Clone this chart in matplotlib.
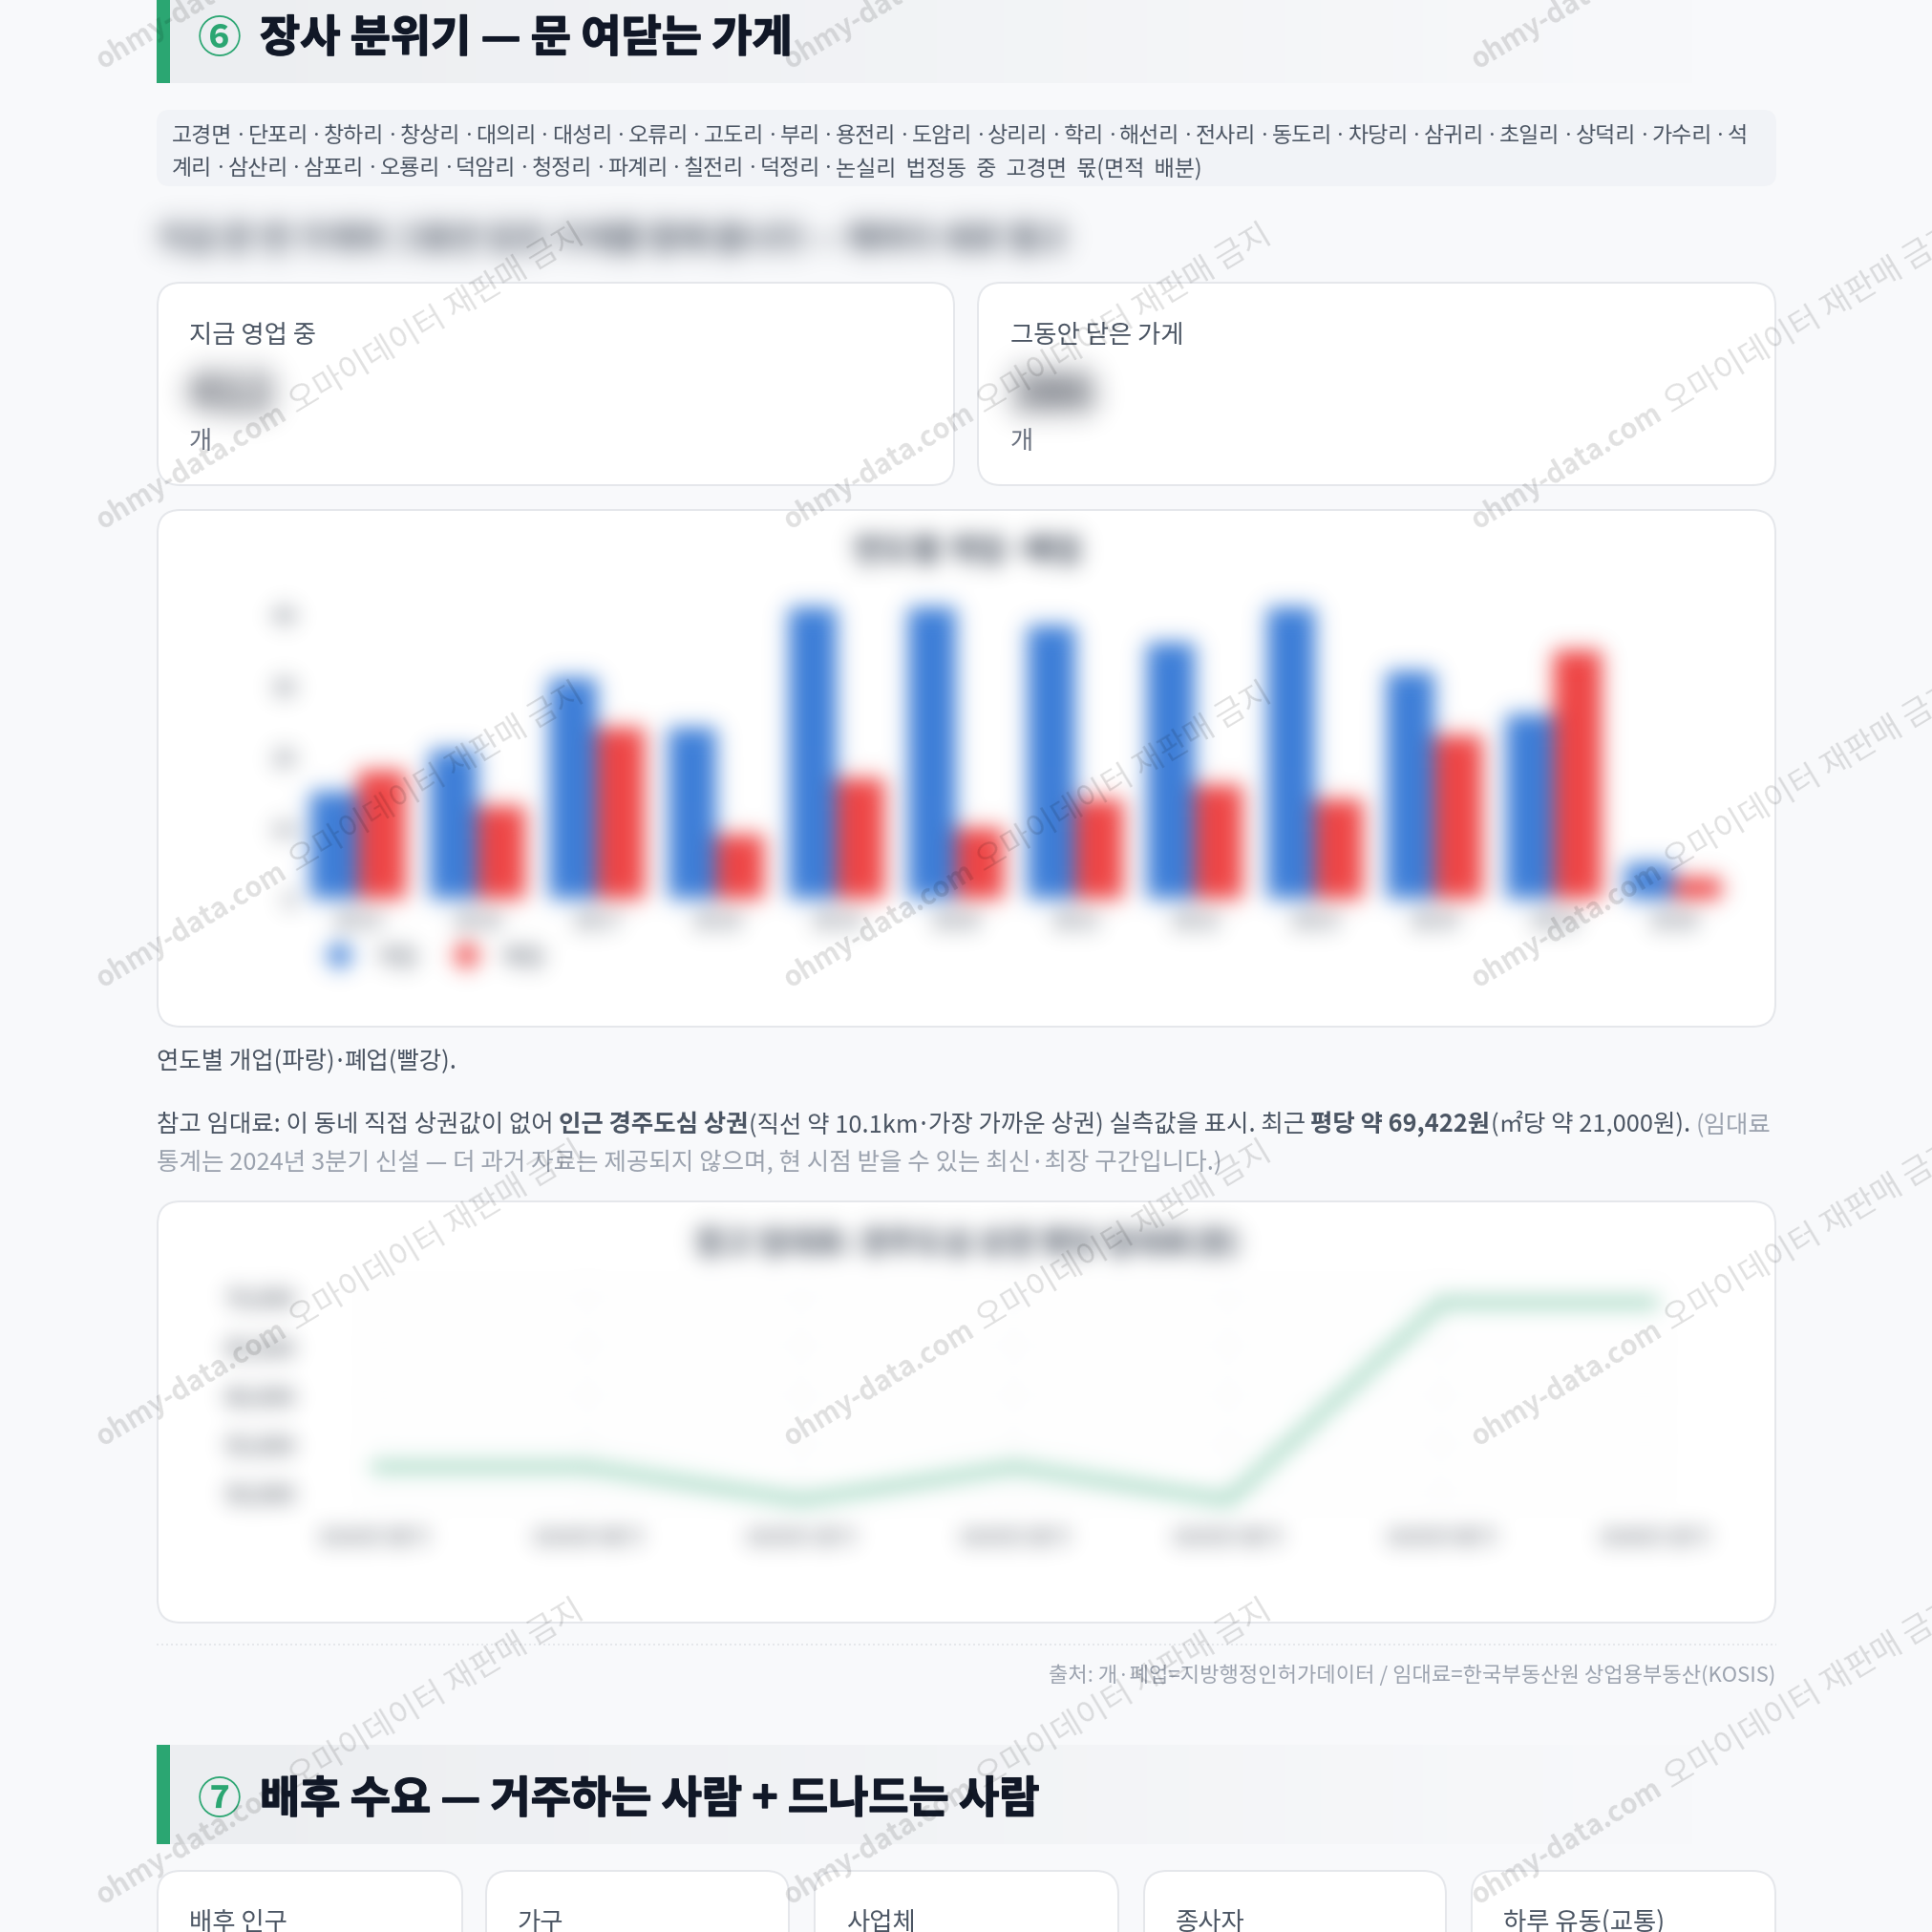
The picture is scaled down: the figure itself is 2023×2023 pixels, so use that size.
import numpy as np
import matplotlib
matplotlib.use("Agg")
import matplotlib.pyplot as plt
import matplotlib.patheffects as pe
from matplotlib.patches import FancyBboxPatch, Rectangle
from matplotlib.lines import Line2D

plt.rcParams['font.family'] = ['Noto Sans CJK KR', 'DejaVu Sans']

# data
years = ['2015', '2016', '2017', '2018', '2019', '2020', '2021', '2022', '2023', '2024', '2025', '2026']
opened = [15, 21, 31, 24, 41, 41, 38.5, 36, 41, 32, 26, 5]
closed = [18, 13, 24, 9, 17, 10, 14, 16, 14, 23, 35, 3]
bar_ticks = [0, 10, 20, 30, 40]

quarters = ['2024년 3분기', '2024년 4분기', '2025년 1분기', '2025년 2분기', '2025년 3분기', '2025년 4분기', '2026년 1분기']
rent = [52630, 52630, 49220, 52630, 49220, 69422, 69422]
rent_ticks = [50000, 55000, 60000, 65000, 70000]

area_line1 = ['고경면', '단포리', '창하리', '창상리', '대의리', '대성리', '오류리', '고도리', '부리', '용전리', '도암리',
              '상리리', '학리', '해선리', '전사리', '동도리', '차당리', '삼귀리', '초일리', '상덕리', '가수리', '석']
area_line2 = ['계리', '삼산리', '삼포리', '오룡리', '덕암리', '청정리', '파계리', '칠전리', '덕정리', '논실리  법정동  중  고경면  몫(면적  배분)']
small_cards = ['배후 인구', '가구', '사업체', '종사자', '하루 유동(교통)']


def px(n):
    return n * 72 / 100


def blur(sigma):
    def f(im, dpi):
        pad = int(3 * sigma) + 1
        a = np.pad(im, ((pad, pad), (pad, pad), (0, 0)))
        a[..., :3] *= a[..., 3:]
        k = np.exp(-0.5 * (np.arange(-pad, pad + 1) / sigma) ** 2)
        k = k / k.sum()
        for axis in (0, 1):
            out = np.zeros_like(a)
            for i, w in enumerate(k):
                out += w * np.roll(a, i - pad, axis=axis)
            a = out
        al = np.clip(a[..., 3:], 1e-6, 1)
        a[..., :3] = np.clip(a[..., :3] / al, 0, 1)
        return a, -pad, -pad
    return f


fig = plt.figure(figsize=(20.24, 20.24), dpi=100, facecolor='#f8f9fb')
page = fig.add_axes([0, 0, 1, 1], zorder=0)
page.set_axis_off()
rend = fig.canvas.get_renderer()


def card(x0, y0, x1, y1):
    page.add_patch(FancyBboxPatch((x0, y0), x1 - x0, y1 - y0, boxstyle='round,pad=0,rounding_size=24',
                                  fc='white', ec='#e5e7eb', lw=px(2)))


def txt(x, y, s, size, color='#4b5563', weight='normal', **kw):
    return page.text(x, y, s, fontsize=px(size), color=color, fontweight=weight, va='baseline', **kw)


def run_width(s, size, weight='normal'):
    t1 = txt(0, 0, '|' + s + '|', size, weight=weight)
    t2 = txt(0, 0, '||', size, weight=weight)
    w = t1.get_window_extent(rend).width - t2.get_window_extent(rend).width
    t1.remove()
    t2.remove()
    return w


def runs(x, y, parts, size):
    for s, color, weight in parts:
        txt(x, y, s, size, color, weight)
        x += run_width(s, size, weight)
    return x


def dotted_words(x, y, words, size, gap, color='#4b5563'):
    # words joined by a narrow middle dot, the browser spacing is tighter than the font's
    for i, w in enumerate(words):
        txt(x, y, w, size, color)
        x += run_width(w, size)
        if i < len(words) - 1:
            txt(x + gap / 2, y, '·', size, color, ha='center')
            x += gap
    return x


def header(y0, y1, mark, title):
    grad = np.zeros((1, 256, 4))
    grad[..., :3] = matplotlib.colors.to_rgb('#eceef1')
    grad[..., 3] = np.linspace(1, 0, 256)
    page.imshow(grad, extent=(178, 1785, y1, y0), aspect='auto', zorder=1)
    page.add_patch(Rectangle((164, y0), 14, y1 - y0, fc='#2ba672', ec='none', zorder=2))
    base = (y0 + y1) / 2 + 19
    txt(207, base, mark, 46, '#2ba672', 'bold', zorder=3)
    t = txt(272, base, title, 45.85, '#111827', 'bold', zorder=3)
    t.set_path_effects([pe.withStroke(linewidth=px(1.5), foreground='#111827')])


# section 6
header(-16, 88, '⑥', '장사 분위기 — 문 여닫는 가게')
page.add_patch(FancyBboxPatch((164, 116), 1696, 80, boxstyle='round,pad=0,rounding_size=14', fc='#f1f3f7', ec='none'))
area_size = 23
area_gap = (1830 - 180 - sum(run_width(w, area_size) for w in area_line1)) / (len(area_line1) - 1)
dotted_words(180, 149, area_line1, area_size, area_gap)
dotted_words(180, 183, area_line2, area_size, area_gap)

t = txt(165, 261, '지금 문 연 가게와 그동안 닫은 가게를 함께 봅니다 — 해마다 새로 열고', 33.5, '#374151', 'bold')
t.set_agg_filter(blur(13))

card(165, 297, 999, 509)
card(1024, 297, 1859, 509)
txt(198, 359, '지금 영업 중', 26.4, '#4b5563')
txt(1058, 359, '그동안 닫은 가게', 26.4, '#4b5563')
for x, s in ((198, '412'), (1058, '386')):
    t = txt(x, 428, s, 50, '#111827', 'bold')
    t.set_agg_filter(blur(15))
txt(198, 470, '개', 26.4, '#6b7280')
txt(1058, 470, '개', 26.4, '#6b7280')

card(165, 535, 1859, 1076)
card(165, 1259, 1859, 1700)

body = 25.4
dot_gap = run_width('·', body) - 4
dotted_words(164, 1119, ['연도별 개업(파랑)', '폐업(빨강).'], body, dot_gap)
x = runs(164, 1185, [('참고 임대료: 이 동네 직접 상권값이 없어 ', '#4b5563', 'normal'),
                     ('인근 경주도심 상권', '#4b5563', 'bold')], body)
x = dotted_words(x, 1185, ['(직선 약 10.1km', '가장 가까운 상권) 실측값을 표시. 최근 '], body, dot_gap)
runs(x, 1185, [('평당 약 69,422원', '#4b5563', 'bold'),
               ('(㎡당 약 21,000원). ', '#4b5563', 'normal'),
               ('(임대료', '#9ca3af', 'normal')], body)
txt(164, 1225, '통계는 2024년 3분기 신설 — 더 과거 자료는 제공되지 않으며, 현 시점 받을 수 있는 최신·최장 구간입니다.)', 25.5, '#9ca3af')

page.plot([164, 1860], [1723, 1723], color='#e5e7eb', lw=px(2), dashes=(1, 1.5))
txt(1859, 1761, '출처: 개·폐업=지방행정인허가데이터 / 임대료=한국부동산원 상업용부동산(KOSIS)', 22.1, '#9ca3af', ha='right')

# section 7
header(1828, 1932, '⑦', '배후 수요 — 거주하는 사람 + 드나드는 사람')
for (x0, x1), name in zip([(165, 484), (509, 826), (853, 1171), (1198, 1514), (1541, 1859)], small_cards):
    page.add_patch(FancyBboxPatch((x0, 1960), x1 - x0, 200, boxstyle='round,pad=0,rounding_size=24',
                                  fc='white', ec='#e5e7eb', lw=px(2)))
    txt(x0 + 33, 2021, name, 26.4, '#4b5563')

page.set_xlim(0, 2024)
page.set_ylim(2024, 0)


def add_ax(x0, x1, ytop, ybot, sigma):
    ax = fig.add_axes([x0 / 2024, 1 - ybot / 2024, (x1 - x0) / 2024, (ybot - ytop) / 2024], zorder=2)
    ax.patch.set_alpha(0)
    for s in ax.spines.values():
        s.set_visible(False)
    ax.set_agg_filter(blur(sigma))
    return ax


# bar chart (blurred in the reference)
ax1 = add_ax(312, 1815, 637, 942, 11)
xs = np.arange(len(years))
ax1.bar(xs - 0.2, opened, 0.4, color='#3b7dd8')
ax1.bar(xs + 0.2, closed, 0.4, color='#ef4444')
ax1.set_xlim(-0.5, len(years) - 0.5)
ax1.set_ylim(0, 41)
ax1.set_xticks(xs, years)
ax1.set_yticks(bar_ticks)
ax1.tick_params(length=0, labelsize=px(23), labelcolor='#374151')
ax1.tick_params(axis='x', pad=px(12))
ax1.tick_params(axis='y', pad=px(2))
ax1.text(1013, 587, '연도별 개업·폐업', transform=page.transData, ha='center', va='baseline',
         fontsize=px(33), fontweight='bold', color='#374151', clip_on=False)
handles = [Line2D([], [], ls='none', marker='o', ms=px(24), color='#3b7dd8'),
           Line2D([], [], ls='none', marker='o', ms=px(24), color='#ef4444')]
ax1.legend(handles, ['개업', '폐업'], ncol=2, frameon=False, loc='center left', bbox_to_anchor=(331, 1003),
           bbox_transform=page.transData, fontsize=px(24), labelcolor='#374151', handletextpad=0.6, columnspacing=1.1,
           borderpad=0, borderaxespad=0)

# rent line chart (blurred too)
ax2 = add_ax(392, 1733, 1348.75, 1574.25, 11)
ax2.plot(range(len(quarters)), rent, color='#2ba672', lw=px(5.5), clip_on=False)
ax2.set_xlim(0, len(quarters) - 1)
ax2.set_ylim(49000, 71000)
ax2.set_xticks(range(len(quarters)), quarters)
ax2.set_yticks(rent_ticks, [f'{v:,}' for v in rent_ticks])
ax2.grid(color='#f3f4f6', lw=px(2))
ax2.set_axisbelow(True)
ax2.tick_params(length=0, labelcolor='#1f2937')
ax2.tick_params(axis='x', pad=px(26), labelsize=px(20))
ax2.tick_params(axis='y', pad=px(83), labelsize=px(24))
ax2.text(1013, 1312, '참고 임대료: 경주도심 상권 평당 임대료(원)', transform=page.transData, ha='center',
         va='baseline', fontsize=px(32), fontweight='bold', color='#374151', clip_on=False)

# watermark on top of everything
wm = fig.add_axes([0, 0, 1, 1], zorder=5)
wm.set_axis_off()
wm.set_xlim(0, 2024)
wm.set_ylim(2024, 0)
angle = 31
for y in [73, 555, 1035, 1515, 1995]:
    for x in [108, 828, 1548]:
        wm.text(x, y, 'ohmy-data.com', rotation=angle, rotation_mode='anchor', fontsize=px(29), fontweight='bold',
                color='#000000', alpha=0.12, ha='left', va='baseline')
        wm.text(x + 236 * np.cos(np.radians(angle)), y - 236 * np.sin(np.radians(angle)), '오마이데이터 재판매 금지',
                rotation=angle, rotation_mode='anchor', fontsize=px(33.4), color='#000000', alpha=0.12,
                ha='left', va='baseline')

fig.savefig('out.png', dpi=100, facecolor=fig.get_facecolor())
